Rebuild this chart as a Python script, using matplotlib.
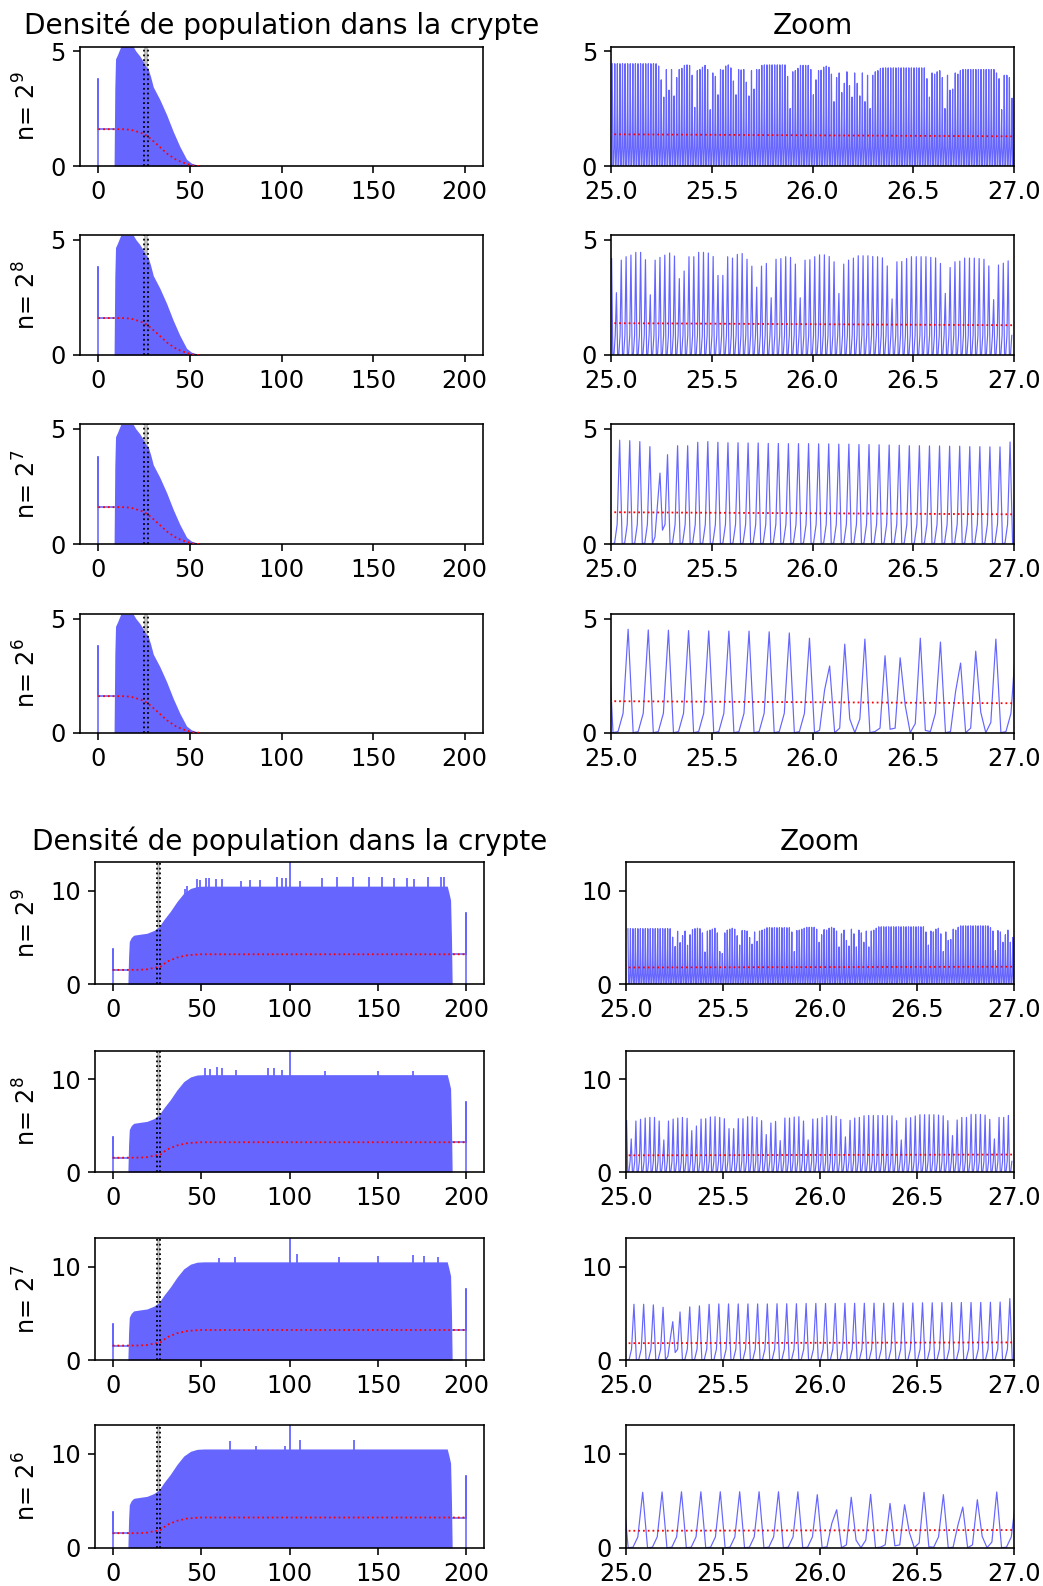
import numpy as np
import matplotlib
matplotlib.use("Agg")
import matplotlib.pyplot as plt

# ---------------- data ----------------
exponents = [9, 8, 7, 6]
title_left = "Densité de population dans la crypte"
title_right = "Zoom"
left_xticks = [0, 50, 100, 150, 200]
right_xticks = [25.0, 25.5, 26.0, 26.5, 27.0]
zoom_window = [25, 27]

# upper group: envelope of the dense oscillation (full domain)
env_top_x = [8.6, 9.0, 9.4, 10.5, 11.5, 12.3, 19.0, 20.5, 22.7, 24.5, 26.4, 27.3, 28.5,
             30.0, 33.6, 37.3, 40.9, 44.5, 48.2, 50.9, 54.5, 56.0]
env_top_y = [0.0, 3.4, 4.66, 4.85, 5.05, 5.2, 5.2, 5.0, 4.78, 4.55, 4.27, 4.2, 3.9,
             3.44, 2.89, 2.23, 1.5, 0.85, 0.29, 0.12, 0.03, 0.0]
mean_top_x = [0, 15, 19, 24.5, 25, 27, 31.8, 37.3, 42.7, 48.2, 52, 55]
mean_top_y = [1.6, 1.6, 1.55, 1.41, 1.38, 1.29, 0.96, 0.55, 0.26, 0.09, 0.02, 0.0]
init_x = [0, 0, 0, 8.6]
init_y = [0, 3.8, 1.6, 1.6]

# lower group
env_bot_x = [8.6, 9.0, 9.4, 10.5, 11.9, 15.7, 19.4, 23.2, 26.0, 28.9, 32.6, 36.4, 40.2,
             44.0, 47.7, 51.5, 189.2, 190.2, 191.1, 191.6, 192.0]
env_bot_y = [0.0, 3.0, 4.57, 5.0, 5.25, 5.36, 5.46, 5.75, 6.1, 6.9, 7.8, 8.86, 9.75,
             10.25, 10.46, 10.5, 10.5, 9.75, 9.0, 5.0, 0.0]
mean_bot_x = [0, 15, 19.4, 22, 25, 27, 30.8, 36.4, 42, 49.6, 200]
mean_bot_y = [1.54, 1.55, 1.6, 1.7, 1.8, 1.88, 2.43, 2.86, 3.1, 3.21, 3.21]
init_bot_y = [0, 3.8, 1.54, 1.54]
tail_x = [192, 200, 200, 200]
tail_y = [3.21, 3.21, 7.6, 0.0]

spikes_x = {
    9: [41, 42, 47.7, 49.2, 52.5, 54.4, 58.2, 62, 72.6, 77.9, 83.2, 93, 95.5, 98.3, 100,
        106.2, 118.5, 127, 135.9, 145, 152.5, 159, 166.2, 170.4, 178.5, 185.5, 187.4],
    8: [52, 55, 59, 62, 70, 88, 91, 96, 100, 120, 150, 170],
    7: [60, 69, 100, 104, 128, 150, 170, 176, 184],
    6: [66.6, 81, 97.7, 100, 106, 136.4],
}
spikes_y = {
    9: [10.2, 10.5, 11.3, 11.15, 11.35, 11.35, 11.25, 11.3, 11.0, 11.15, 11.15, 11.5, 11.4,
        11.4, 13.1, 11.0, 11.4, 11.45, 11.5, 11.45, 11.45, 11.4, 11.4, 11.3, 11.5, 11.45, 11.45],
    8: [11.2, 11.1, 11.3, 11.2, 11.0, 11.2, 11.2, 11.0, 13.1, 10.9, 10.9, 10.9],
    7: [10.9, 11.0, 13.1, 11.3, 11.0, 11.1, 11.2, 11.1, 11.0],
    6: [11.3, 10.8, 10.8, 13.1, 11.46, 11.43],
}

# zoom panels: peak heights per cycle, and values between peaks
trough_top = [0.0, 0.05, 0.85]
trough_bot = [0.0, 0.05, 1.15]

peaks_top_9 = ([4.45] * 18 +
               [4.35, 3.75, 3.0, 4.2, 3.3, 4.2, 3.05, 3.85, 4.2, 4.25, 4.38, 4.4, 4.38, 3.95,
                2.55, 4.15, 4.2, 4.3, 4.38, 4.2, 2.45, 4.05, 3.9, 3.1, 4.2, 4.18, 4.35, 4.4,
                4.27, 3.7, 3.1, 4.2, 4.18, 4.2, 3.65, 3.05, 4.15, 3.35, 4.2, 4.2, 4.38] +
               [4.4] * 9 +
               [3.9, 2.5, 4.1, 4.15, 4.25, 4.38, 4.38, 4.38, 4.38, 4.2, 3.1, 3.75, 4.15, 4.17,
                4.3, 4.35, 4.3, 4.0, 2.8, 3.85, 4.05, 3.2, 3.6, 4.1, 3.5, 3.0, 4.05, 3.6, 3.05,
                4.05, 2.8, 3.95, 2.5, 3.95, 4.1, 4.15, 4.25] +
               [4.27] * 17 +
               [3.8, 3.0, 4.05, 4.0, 4.1, 4.15, 3.85, 2.5, 3.95, 3.3, 3.35, 4.05, 4.0, 4.15] +
               [4.2] * 13 +
               [4.05, 3.8, 2.45, 3.95, 3.95, 3.85, 2.95, 3.9, 3.0, 3.6])
peaks_bot_9 = ([5.95] * 18 +
               [5.04, 4.04, 5.68, 4.46, 5.2, 5.7, 4.18, 5.3, 5.85, 5.95, 6.0, 5.95, 5.5, 3.46,
                5.7, 5.8, 5.9, 6.0, 5.5, 3.5, 3.3, 5.5, 5.8, 5.9, 6.0, 5.9, 5.2, 4.2, 5.75,
                5.75, 5.7, 5.0, 4.3, 5.6, 4.6, 5.7, 5.8, 5.9] +
               [6.05] * 10 +
               [5.6, 3.5, 5.75, 5.8, 5.9, 6.0, 6.1, 6.1, 6.1, 6.1, 5.9, 4.5, 5.3, 5.85, 5.8,
                6.0, 6.1, 6.0, 5.7, 4.0, 5.4, 5.8, 4.7, 4.1, 5.9, 5.4, 4.0, 5.8, 5.5, 4.5,
                5.7, 4.0, 5.7, 5.8, 6.0] +
               [6.15] * 19 +
               [5.6, 4.2, 5.7, 5.6, 5.9, 6.0, 5.4, 3.5, 5.6, 4.7, 4.8, 5.9, 5.8, 6.1] +
               [6.25] * 12 +
               [6.05, 5.7, 3.6, 5.75, 5.6, 4.5, 5.3, 5.8, 4.5, 5.0])

peaks_top_8 = [4.18, 2.7, 4.11, 4.26, 4.33, 4.45, 4.45, 4.13, 2.61, 4.11,
               4.23, 4.33, 4.42, 4.29, 3.31, 3.64, 4.26, 4.26, 4.45, 4.45,
               4.42, 4.27, 3.45, 3.45, 4.26, 4.2, 4.36, 4.4, 4.15, 3.85,
               2.94, 3.85, 3.97, 2.48, 4.15, 4.18, 4.26, 4.23, 3.94, 2.48,
               4.11, 4.13, 4.26, 4.34, 4.34, 4.27, 4.04, 2.67, 3.94, 4.11,
               4.2, 4.3, 4.3, 4.3, 4.27, 4.26, 4.21, 3.86, 2.43, 4.04,
               4.05, 4.18, 4.26, 4.26, 4.26, 4.26, 4.23, 4.21, 3.97, 2.67,
               3.79, 4.04, 4.07, 4.2, 4.2, 4.2, 4.18, 4.15, 3.86, 2.4,
               3.9, 3.98, 4.08]
peaks_bot_8 = [5.54, 3.57, 5.5, 5.68, 5.82, 5.89, 5.89, 5.5, 3.46, 5.5,
               5.71, 5.82, 5.89, 5.79, 4.46, 4.96, 5.71, 5.75, 5.93, 5.96,
               5.89, 5.75, 4.68, 4.68, 5.75, 5.75, 5.96, 5.96, 5.89, 5.54,
               4.04, 5.29, 5.46, 3.39, 5.82, 5.82, 5.93, 5.96, 5.5, 3.46,
               5.71, 5.75, 5.89, 6.07, 6.07, 6.0, 5.68, 3.79, 5.57, 5.82,
               5.89, 6.07, 6.1, 6.1, 6.1, 6.1, 6.07, 6.07, 5.54, 3.46,
               5.82, 5.86, 6.04, 6.18, 6.18, 6.18, 6.18, 6.14, 6.07, 5.54,
               3.93, 5.61, 5.89, 5.89, 6.21, 6.21, 6.21, 6.14, 5.68, 3.57,
               5.89, 5.89, 6.1]

head_7 = [0.0, 0.0, 0.05, 0.85]
peaks_top_7a = [4.51, 4.49, 4.45, 4.23]
mid_top_7 = [0.0, 0.3, 1.7, 3.08, 0.6, 0.85]
peaks_top_7b = [3.88, 4.27, 4.27, 4.42, 4.45, 4.42, 4.4, 4.4, 4.39, 4.39, 4.37, 4.37,
                4.36, 4.36, 4.36, 4.35, 4.35, 4.34, 4.34, 4.32, 4.32, 4.31, 4.3, 4.29,
                4.27, 4.27, 4.26, 4.26, 4.25, 4.25, 4.23, 4.23, 4.22, 4.22, 4.43]
head_bot_7 = [0.0, 0.0, 0.05, 1.15]
peaks_bot_7a = [5.96, 5.96, 5.9, 5.64]
mid_bot_7 = [0.0, 0.4, 2.3, 4.1, 0.8, 1.15]
peaks_bot_7b = [5.14, 5.68, 5.79, 5.96, 6.0, 6.0, 6.0, 6.0, 6.0, 6.0, 6.02, 6.02, 6.02,
                6.05, 6.05, 6.05, 6.05, 6.07, 6.07, 6.07, 6.08, 6.08, 6.1, 6.1, 6.1, 6.12,
                6.12, 6.14, 6.14, 6.15, 6.15, 6.16, 6.18, 6.2, 6.57]

samples_top_6 = [4.5, 0.0, 0.05, 0.85, 4.53, 0.0, 0.05, 0.85, 4.5, 0.0, 0.05, 0.85, 4.49,
                 0.0, 0.05, 0.85, 4.47, 0.0, 0.05, 0.85, 4.46, 0.0, 0.05, 0.85, 4.45,
                 0.0, 0.05, 0.85, 4.45, 0.0, 0.05, 0.85, 4.42, 0.0, 0.05, 0.85, 4.37,
                 0.0, 0.05, 0.85, 4.14, 0.0, 0.1, 1.87, 2.92, 0.0, 0.2, 3.88, 0.6, 0.0,
                 0.6, 4.1, 0.0, 0.05, 0.2, 3.37, 0.15, 0.2, 3.28, 1.2, 0.0, 0.4, 4.14,
                 0.1, 0.05, 0.85, 3.97, 0.0, 0.05, 1.8, 3.05, 0.0, 0.2, 3.57, 0.9, 0.0,
                 0.45, 4.1, 0.0, 0.05, 0.85, 4.0]
samples_bot_6 = [5.9, 0.0, 0.05, 1.15, 5.9, 0.0, 0.05, 1.15, 5.93, 0.0, 0.05, 1.15, 5.95,
                 0.0, 0.05, 1.15, 5.95, 0.0, 0.05, 1.15, 5.95, 0.0, 0.05, 1.15, 5.95,
                 0.0, 0.05, 1.15, 5.95, 0.0, 0.05, 1.15, 5.95, 0.0, 0.05, 1.15, 5.95,
                 0.0, 0.05, 1.15, 5.64, 0.0, 0.1, 2.6, 4.04, 0.0, 0.3, 5.36, 0.8, 0.0,
                 0.8, 5.68, 0.0, 0.05, 0.3, 4.71, 0.2, 0.3, 4.57, 1.6, 0.0, 0.5, 5.89,
                 0.1, 0.05, 1.15, 5.64, 0.0, 0.05, 2.4, 4.32, 0.0, 0.3, 5.1, 1.2, 0.0,
                 0.6, 5.93, 0.0, 0.05, 1.15, 5.4]

# sampling of the zoom series (start time, time step)
zoom_t0 = {("top", 9): 25.006, ("top", 8): 25.003, ("top", 7): 24.993, ("top", 6): 24.985,
           ("bot", 9): 25.01, ("bot", 8): 25.003, ("bot", 7): 24.991, ("bot", 6): 24.986}
zoom_dt = {9: 0.0032, 8: 0.006, 7: 0.0125, 6: 0.025}


def build(peaks, trough):
    out = []
    for p in peaks:
        out += [p] + list(trough)
    return out


zoom_vals = {
    ("top", 9): build(peaks_top_9, trough_top),
    ("top", 8): build(peaks_top_8, trough_top),
    ("top", 7): head_7 + build(peaks_top_7a, trough_top)[:-3] + mid_top_7 + build(peaks_top_7b, trough_top),
    ("top", 6): samples_top_6,
    ("bot", 9): build(peaks_bot_9, trough_bot),
    ("bot", 8): build(peaks_bot_8, trough_bot),
    ("bot", 7): head_bot_7 + build(peaks_bot_7a, trough_bot)[:-3] + mid_bot_7 + build(peaks_bot_7b, trough_bot),
    ("bot", 6): samples_bot_6,
}

# ---------------- figure ----------------
W, H = 1043, 1586
fig = plt.figure(figsize=(W / 144, H / 144), dpi=144)

blue_fill = "#6666ff"


def add_ax(x0, x1, y0, y1):
    return fig.add_axes([x0 / W, 1 - y1 / H, (x1 - x0) / W, (y1 - y0) / H])


groups = [
    dict(key="top", L=(80, 483), R=(611, 1014),
         rows=[(46.5, 166), (235, 355), (424.3, 544), (614, 732.7)],
         ylim=5.2, yticks=[0, 5], lab=-0.097),
    dict(key="bot", L=(95, 484), R=(626, 1014),
         rows=[(862.3, 984.3), (1051, 1172), (1238, 1360), (1425, 1547.7)],
         ylim=13.05, yticks=[0, 10], lab=-0.139),
]

for g in groups:
    key = g["key"]
    for i, (k, (ya, yb)) in enumerate(zip(exponents, g["rows"])):
        axl = add_ax(g["L"][0], g["L"][1], ya, yb)
        axr = add_ax(g["R"][0], g["R"][1], ya, yb)

        # ----- left: whole crypt -----
        axl.axvspan(zoom_window[0], zoom_window[1], color="0.75", zorder=0, lw=0)
        if key == "top":
            axl.fill_between(env_top_x, 0, env_top_y, color=blue_fill, lw=0, zorder=1)
            axl.plot(init_x, init_y, color=blue_fill, lw=0.8, zorder=1)
            axl.plot(mean_top_x, mean_top_y, color="r", ls=":", lw=0.9, zorder=3)
            axr.plot(mean_top_x, mean_top_y, color="r", ls=":", lw=0.9, zorder=3)
        else:
            axl.fill_between(env_bot_x, 0, env_bot_y, color=blue_fill, lw=0, zorder=1)
            axl.plot(init_x, init_bot_y, color=blue_fill, lw=0.8, zorder=1)
            axl.plot(tail_x, tail_y, color=blue_fill, lw=0.8, zorder=1)
            axl.vlines(spikes_x[k], 9.5, spikes_y[k], color=blue_fill, lw=0.9, zorder=1)
            axl.plot(mean_bot_x, mean_bot_y, color="r", ls=":", lw=0.9, zorder=3)
            axr.plot(mean_bot_x, mean_bot_y, color="r", ls=":", lw=0.9, zorder=3)
        for xv in zoom_window:
            axl.axvline(xv, color="k", ls=":", lw=0.9, zorder=4)
        axl.set_xlim(-10, 210)
        axl.set_ylim(0, g["ylim"])
        axl.set_xticks(left_xticks)
        axl.set_yticks(g["yticks"])
        axl.set_ylabel(f"n= $2^{{{k}}}$", fontsize=12)
        axl.yaxis.set_label_coords(g["lab"], 0.5)

        # ----- right: zoom -----
        vals = zoom_vals[(key, k)]
        t = zoom_t0[(key, k)] + zoom_dt[k] * np.arange(len(vals))
        axr.plot(t, vals, color="b", alpha=0.6, lw=0.6, zorder=2)
        axr.set_xlim(zoom_window)
        axr.set_ylim(0, g["ylim"])
        axr.set_xticks(right_xticks)
        axr.set_xticklabels([f"{v:.1f}" for v in right_xticks])
        axr.set_yticks(g["yticks"])

        for ax in (axl, axr):
            ax.tick_params(labelsize=12)

        if i == 0:
            axl.set_title(title_left, fontsize=14)
            axr.set_title(title_right, fontsize=14)

fig.savefig("out.png", dpi=144)
